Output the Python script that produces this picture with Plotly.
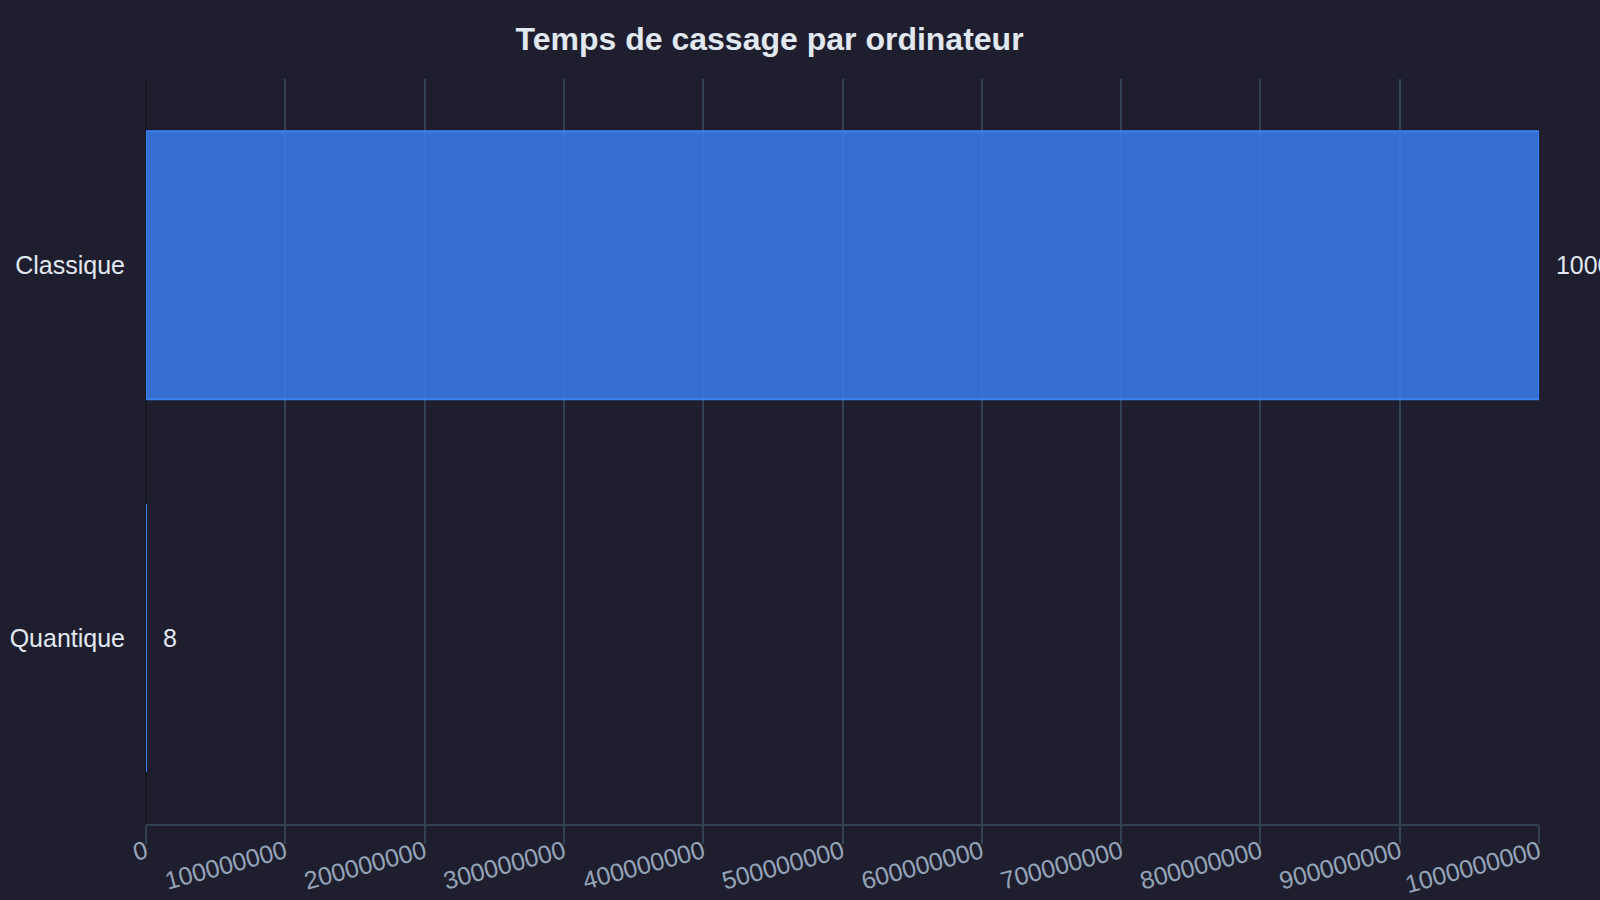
import plotly.graph_objects as go

# données du graphique
ordinateurs = ["Classique", "Quantique"]
temps_cassage = [1000000000, 8]
x_ticks = [0, 100000000, 200000000, 300000000, 400000000, 500000000,
           600000000, 700000000, 800000000, 900000000, 1000000000]

BG = "#1e1e2e"
GRID = "#334155"

fig = go.Figure()

fig.add_trace(
    go.Bar(
        x=temps_cassage,
        y=ordinateurs,
        orientation="h",
        text=[str(v) for v in temps_cassage],
        texttemplate="\u00a0\u00a0%{text}",
        textposition="outside",
        textfont=dict(color="#e2e8f0", size=25),
        cliponaxis=False,
        marker=dict(color="rgba(59,130,246,0.8)",
                    line=dict(color="#3b82f6", width=2)),
        hoverinfo="x+y",
    )
)

fig.update_layout(
    title=dict(
        text="<b>Temps de cassage par ordinateur</b>",
        x=0.481, xanchor="center",
        y=0.957, yanchor="middle",
        font=dict(size=32, color="#e2e8f0"),
    ),
    font=dict(family="Liberation Sans, Arial, sans-serif"),
    paper_bgcolor=BG,
    plot_bgcolor=BG,
    margin=dict(l=146, r=61, t=79, b=76),
    bargap=0.28,
    showlegend=False,
    xaxis=dict(
        range=[0, 1000000000],
        tickvals=x_ticks,
        ticktext=[str(v) for v in x_ticks],
        tickangle=-15,
        tickfont=dict(size=25, color="#94a3b8"),
        showgrid=True,
        gridcolor=GRID,
        gridwidth=1.5,
        zeroline=True,
        zerolinecolor="#16161f",
        zerolinewidth=2,
        showline=True,
        linecolor=GRID,
        linewidth=1.5,
        ticks="outside",
        ticklen=18,
        tickwidth=1.5,
        tickcolor=GRID,
        ticklabelstandoff=-16,
        automargin=False,
    ),
    yaxis=dict(
        autorange="reversed",
        tickfont=dict(size=25, color="#e2e8f0"),
        showgrid=False,
        showline=False,
        ticks="",
        ticklabelstandoff=20,
        automargin=False,
    ),
)

# page sans marge blanche autour du graphique
page_js = (
    "document.body.style.margin='0';"
    "document.body.style.overflow='hidden';"
    "var gd=document.getElementById('{plot_id}');"
    "gd.style.width='100vw';gd.style.height='100vh';"
    "Plotly.Plots.resize(gd);"
)

fig.write_html("out.html", post_script=page_js,
               config={"displayModeBar": False})
